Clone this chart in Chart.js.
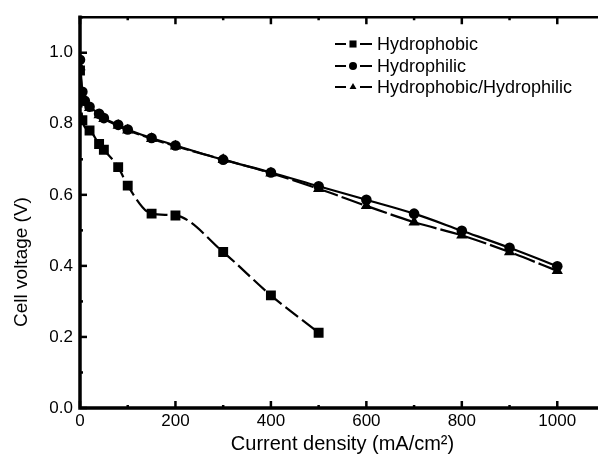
<!DOCTYPE html>
<html>
<head>
<meta charset="utf-8">
<script src="https://cdn.jsdelivr.net/npm/chart.js@4.4.1/dist/chart.umd.min.js"></script>
<style>
  html, body { margin: 0; padding: 0; background: #fff; overflow: hidden; }
  #wrap { width: 598px; height: 459px; overflow: hidden; }
</style>
</head>
<body>
<div id="wrap"><canvas id="chart" width="620" height="459"></canvas></div>
<script>
// --- data ---
const currentPhobic = [0, 5, 20, 40, 50, 80, 100, 150, 200, 300, 400, 500];
const voltPhobic    = [0.95, 0.81, 0.781, 0.743, 0.727, 0.678, 0.626, 0.547, 0.542, 0.439, 0.317, 0.212];

const currentPhilic = [0, 5, 10, 20, 40, 50, 80, 100, 150, 200, 300, 400, 500, 600, 700, 800, 900, 1000];
const voltPhilic    = [0.98, 0.89, 0.865, 0.848, 0.828, 0.816, 0.797, 0.784, 0.760, 0.739, 0.699, 0.663, 0.624, 0.586, 0.547, 0.499, 0.451, 0.399];

const currentMixed  = [0, 5, 10, 20, 40, 50, 80, 100, 150, 200, 300, 400, 500, 600, 700, 800, 900, 1000];
const voltMixed     = [0.96, 0.88, 0.86, 0.845, 0.825, 0.814, 0.795, 0.782, 0.758, 0.737, 0.699, 0.661, 0.617, 0.569, 0.523, 0.486, 0.439, 0.386];

const seriesNames = ['Hydrophobic', 'Hydrophilic', 'Hydrophobic/Hydrophilic'];
const legendMarkers = ['rect', 'circle', 'triangle'];
const xTickLabels = [0, 200, 400, 600, 800, 1000];
const yTickLabels = [0.0, 0.2, 0.4, 0.6, 0.8, 1.0];

const FONT = '"Liberation Sans", Arial, Helvetica, sans-serif';

function toPoints(xs, ys) {
    return xs.map((x, i) => ({ x: x, y: ys[i] }));
}

// frame, inward ticks, legend and y title
const decorPlugin = {
    id: 'decor',
    afterDraw(chart) {
        const ctx = chart.ctx;
        const a = chart.chartArea;
        const xs = chart.scales.x;
        const ys = chart.scales.y;
        ctx.save();
        ctx.strokeStyle = '#000';
        ctx.lineCap = 'square';
        ctx.setLineDash([]);

        // frame
        ctx.lineWidth = 3.5;
        ctx.beginPath();
        ctx.moveTo(a.left, a.top);
        ctx.lineTo(a.left, a.bottom);
        ctx.lineTo(a.right, a.bottom);
        ctx.stroke();
        ctx.lineWidth = 2.5;
        ctx.beginPath();
        ctx.moveTo(a.left, a.top);
        ctx.lineTo(a.right, a.top);
        ctx.lineTo(a.right, a.bottom);
        ctx.stroke();

        // x ticks (bottom + top)
        ctx.lineCap = 'butt';
        ctx.lineWidth = 2.5;
        for (let v = 0; v <= 1100; v += 100) {
            const px = xs.getPixelForValue(v);
            const len = v % 200 === 0 ? 7 : 3;
            ctx.beginPath();
            ctx.moveTo(px, a.bottom);
            ctx.lineTo(px, a.bottom - len);
            ctx.moveTo(px, a.top);
            ctx.lineTo(px, a.top + len);
            ctx.stroke();
        }
        // y ticks
        for (let i = 0; i <= 11; i++) {
            const py = ys.getPixelForValue(i / 10);
            const len = i % 2 === 0 ? 7 : 3;
            ctx.beginPath();
            ctx.moveTo(a.left, py);
            ctx.lineTo(a.left + len, py);
            ctx.stroke();
        }

        // legend
        const rows = [44, 66, 87];
        ctx.font = '18px ' + FONT;
        ctx.fillStyle = '#000';
        ctx.textBaseline = 'middle';
        ctx.textAlign = 'left';
        seriesNames.forEach((name, i) => {
            const y = rows[i];
            ctx.lineWidth = 2;
            ctx.beginPath();
            ctx.moveTo(335, y);
            ctx.lineTo(346, y);
            ctx.moveTo(360, y);
            ctx.lineTo(372, y);
            ctx.stroke();
            Chart.helpers.drawPoint(ctx, {
                pointStyle: legendMarkers[i],
                radius: legendMarkers[i] === 'rect' ? 5 : 4,
                rotation: 0,
                borderWidth: 0
            }, 353, y);
            ctx.fillStyle = '#000';
            ctx.fillText(name, 377, y + 1);
        });

        // y axis title
        ctx.translate(22, 262);
        ctx.rotate(-Math.PI / 2);
        ctx.textAlign = 'center';
        ctx.font = '19px ' + FONT;
        ctx.fillText('Cell voltage (V)', 0, 0);
        ctx.restore();
    }
};

const baseLine = {
    borderColor: '#000',
    backgroundColor: '#000',
    pointBackgroundColor: '#000',
    pointBorderColor: '#000',
    pointBorderWidth: 0,
    borderWidth: 2.2,
    cubicInterpolationMode: 'monotone',
    fill: false
};

new Chart(document.getElementById('chart'), {
    type: 'line',
    data: {
        datasets: [
            Object.assign({}, baseLine, {
                label: seriesNames[0],
                data: toPoints(currentPhobic, voltPhobic),
                pointStyle: 'rect',
                pointRadius: 7,
                borderDash: [16, 5]
            }),
            Object.assign({}, baseLine, {
                label: seriesNames[2],
                data: toPoints(currentMixed, voltMixed),
                pointStyle: 'triangle',
                pointRadius: 6.5,
                borderDash: [22, 4]
            }),
            Object.assign({}, baseLine, {
                label: seriesNames[1],
                data: toPoints(currentPhilic, voltPhilic),
                pointStyle: 'circle',
                pointRadius: 5.3
            })
        ]
    },
    options: {
        responsive: false,
        animation: false,
        layout: { padding: { top: 16, right: 15, left: 0, bottom: 0 } },
        plugins: {
            legend: { display: false },
            tooltip: { enabled: false }
        },
        scales: {
            x: {
                type: 'linear',
                min: 0,
                max: 1100,
                grid: { display: false, drawTicks: false },
                border: { display: false },
                afterFit(scale) { scale.height = 51; },
                ticks: {
                    stepSize: 100,
                    autoSkip: false,
                    maxRotation: 0,
                    padding: 3,
                    color: '#000',
                    font: { family: FONT, size: 17 },
                    callback: v => xTickLabels.includes(v) ? String(v) : ''
                },
                title: {
                    display: true,
                    text: 'Current density (mA/cm²)',
                    color: '#000',
                    font: { family: FONT, size: 20 },
                    padding: { top: 0, bottom: 3 }
                }
            },
            y: {
                type: 'linear',
                min: 0,
                max: 1.1,
                grid: { display: false, drawTicks: false },
                border: { display: false },
                afterFit(scale) { scale.width = 80; },
                ticks: {
                    stepSize: 0.1,
                    autoSkip: false,
                    padding: 7,
                    color: '#000',
                    font: { family: FONT, size: 17 },
                    callback: v => {
                        const hit = yTickLabels.find(t => Math.abs(t - v) < 1e-6);
                        return hit === undefined ? '' : hit.toFixed(1);
                    }
                }
            }
        }
    },
    plugins: [decorPlugin]
});
</script>
</body>
</html>
